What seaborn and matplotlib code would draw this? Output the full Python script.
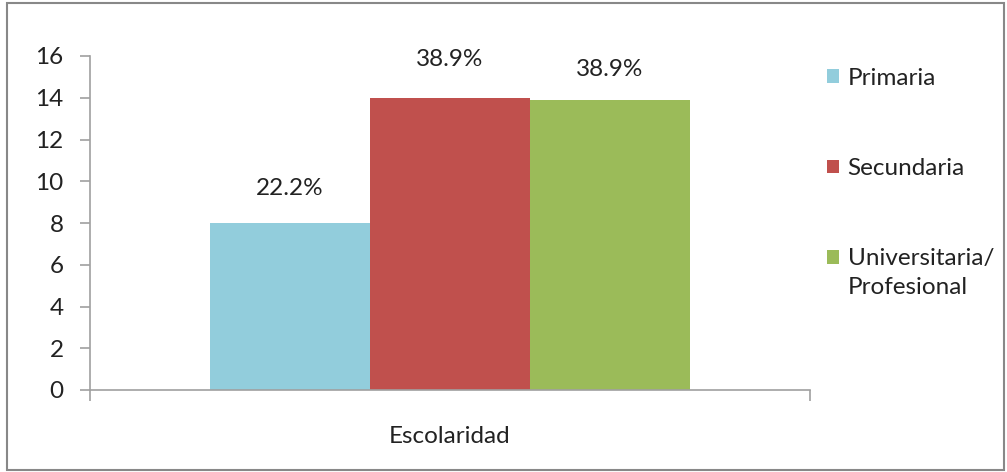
import matplotlib
matplotlib.use("Agg")
import matplotlib.pyplot as plt
import pandas as pd
import seaborn as sns
from matplotlib.patches import Rectangle

# data
categories = ["Primaria", "Secundaria", "Universitaria/"]
extra_line = "Profesional"
values = [8, 14, 13.9]
pct_labels = ["22.2%", "38.9%", "38.9%"]
colors = ["#92CDDC", "#C0504D", "#9BBB59"]
group = "Escolaridad"

df = pd.DataFrame({"grupo": [group] * 3, "nivel": categories, "valor": values})

sns.set_style("white")
plt.rcParams["font.family"] = ["Lato", "DejaVu Sans"]
fs = 17.5
txt_color = "#222222"

fig = plt.figure(figsize=(10.07, 4.72), dpi=100)
ax = fig.add_axes([90 / 1007, 1 - 390 / 472, 720 / 1007, 334 / 472])

sns.barplot(data=df, x="grupo", y="valor", hue="nivel", palette=colors,
            width=0.667, saturation=1, linewidth=0, ax=ax, legend=True)

ax.set_ylim(0, 16)
ax.set_xlim(-0.5, 0.5)
ax.set_yticks(range(0, 17, 2))
ax.set_xlabel("")
ax.set_ylabel("")

for side in ["top", "right"]:
    ax.spines[side].set_visible(False)
for side in ["left", "bottom"]:
    ax.spines[side].set_color("#A0A0A0")
    ax.spines[side].set_linewidth(1.2)

ax.tick_params(axis="y", length=7, color="#A0A0A0", width=1.2, labelsize=fs,
               labelcolor=txt_color, pad=12, left=True, direction="out")
ax.set_xticks([-0.5, 0.5], minor=True)
ax.tick_params(axis="x", which="minor", length=8, color="#A0A0A0", width=1.2,
               bottom=True, direction="out")
ax.tick_params(axis="x", which="major", length=0, labelsize=fs,
               labelcolor=txt_color, pad=26)

# percentage labels above bars
offsets = [17, 20, 14]
for bar, lab, off in zip(ax.patches, pct_labels, offsets):
    ax.annotate(lab, (bar.get_x() + bar.get_width() / 2, bar.get_height()),
                xytext=(0, off), textcoords="offset points",
                ha="center", va="bottom", fontsize=fs, color=txt_color)

handles, labels = ax.get_legend_handles_labels()
ax.get_legend().remove()
leg = fig.legend(handles, labels, loc="upper left",
                 bbox_to_anchor=(805 / 1007, 1 - 46 / 472),
                 frameon=False, fontsize=fs, handlelength=0.5, handleheight=0.5,
                 handletextpad=0.35, labelspacing=2.85, labelcolor=txt_color)

# second line of the last legend entry, under its first line
fig.canvas.draw()
bb = leg.get_texts()[-1].get_window_extent()
fig.text(bb.x0 / 1007, (bb.y0 - 8) / 472, extra_line, fontsize=fs,
         color=txt_color, ha="left", va="top")

fig.patches.append(Rectangle((0.007, 0.004), 0.99, 0.99, transform=fig.transFigure,
                             fill=False, edgecolor="#888888", linewidth=1.5))

fig.savefig("out.png", dpi=100)
